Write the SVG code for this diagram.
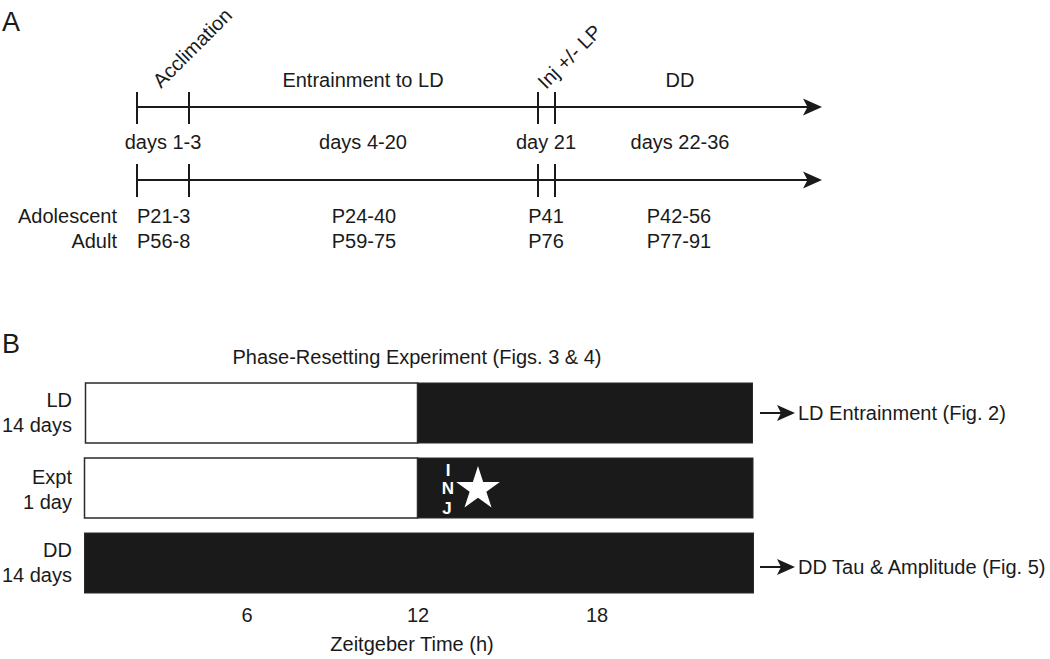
<svg xmlns="http://www.w3.org/2000/svg" width="1050" height="659" viewBox="0 0 1050 659">
<style>
text{font-family:"Liberation Sans",Arial,sans-serif;font-size:20px;fill:#1a1a1a}
.c{text-anchor:middle}
.r{text-anchor:end}
.big{font-size:27px}
.ax{stroke:#1a1a1a;stroke-width:2;fill:none}
.tk{stroke:#1a1a1a;stroke-width:2}
.wb{fill:#fff;stroke:#2a2a2a;stroke-width:1.5}
.bb{fill:#1a1a1a;stroke:#2a2a2a;stroke-width:1}
.inj{fill:#fff;font-weight:bold;font-size:17px;text-anchor:middle}
.ah{fill:#1a1a1a}
</style>
<rect width="1050" height="659" fill="#fff"/>
<g id="panelA">
<text class="big" x="2" y="31">A</text>
<g id="connectors">
<line class="ax" x1="137" y1="107" x2="808" y2="107"/>
<polygon class="ah" points="822,107 803,98.5 807.5,107 803,115.5"/>
<line class="ax" x1="137" y1="180" x2="808" y2="180"/>
<polygon class="ah" points="822,180 803,171.5 807.5,180 803,188.5"/>
<line class="tk" x1="137" y1="92" x2="137" y2="124"/>
<line class="tk" x1="189" y1="92" x2="189" y2="124"/>
<line class="tk" x1="538" y1="92" x2="538" y2="124"/>
<line class="tk" x1="555" y1="92" x2="555" y2="124"/>
<line class="tk" x1="137" y1="164" x2="137" y2="197"/>
<line class="tk" x1="189" y1="164" x2="189" y2="197"/>
<line class="tk" x1="538" y1="164" x2="538" y2="197"/>
<line class="tk" x1="555" y1="164" x2="555" y2="197"/>
</g>
<g id="phase-labels">
<text transform="translate(161,89) rotate(-45)">Acclimation</text>
<text class="c" x="363" y="87">Entrainment to LD</text>
<text transform="translate(546,90) rotate(-45)">Inj +/- LP</text>
<text class="c" x="680" y="87">DD</text>
</g>
<g id="day-labels">
<text class="c" x="163" y="149">days 1-3</text>
<text class="c" x="363" y="149">days 4-20</text>
<text class="c" x="546" y="149">day 21</text>
<text class="c" x="680" y="149">days 22-36</text>
</g>
<g id="age-labels">
<text class="r" x="117" y="223">Adolescent</text>
<text x="137" y="223">P21-3</text>
<text class="c" x="364" y="223">P24-40</text>
<text class="c" x="546" y="223">P41</text>
<text class="c" x="679" y="223">P42-56</text>
<text class="r" x="117" y="248">Adult</text>
<text x="137" y="248">P56-8</text>
<text class="c" x="364" y="248">P59-75</text>
<text class="c" x="546" y="248">P76</text>
<text class="c" x="679" y="248">P77-91</text>
</g>
</g>
<g id="panelB">
<text class="big" x="2" y="353">B</text>
<text class="c" x="417" y="364">Phase-Resetting Experiment (Figs. 3 &amp; 4)</text>
<g id="row-LD">
<text class="r" x="72" y="407">LD</text>
<text class="r" x="72" y="432">14 days</text>
<rect class="wb" x="85.5" y="383" width="332" height="60"/>
<rect class="bb" x="417.5" y="383" width="335" height="60"/>
</g>
<g id="row-Expt">
<text class="r" x="72" y="484">Expt</text>
<text class="r" x="72" y="509">1 day</text>
<rect class="wb" x="84.5" y="458" width="333" height="60"/>
<rect class="bb" x="417.5" y="458" width="335.5" height="60"/>
<text class="inj" x="448" y="476">I</text>
<text class="inj" x="448" y="494">N</text>
<text class="inj" x="447" y="514">J</text>
<polygon fill="#fff" points="478,466 483.17,481.88 499.87,481.89 486.37,491.72 491.52,507.61 478,497.8 464.48,507.61 469.63,491.72 456.13,481.89 472.83,481.88"/>
</g>
<g id="row-DD">
<text class="r" x="72" y="557">DD</text>
<text class="r" x="72" y="582">14 days</text>
<rect class="bb" x="84.5" y="533" width="669" height="60"/>
</g>
<g id="outcome-arrows">
<line class="ax" x1="760" y1="413" x2="782" y2="413"/>
<polygon class="ah" points="795,413 777,405 781,413 777,421"/>
<line class="ax" x1="760" y1="567" x2="782" y2="567"/>
<polygon class="ah" points="795,567 777,559 781,567 777,575"/>
</g>
<g id="outcomes">
<text x="798" y="420">LD Entrainment (Fig. 2)</text>
<text x="798" y="574">DD Tau &amp; Amplitude (Fig. 5)</text>
</g>
<g id="time-axis">
<text class="c" x="247" y="622">6</text>
<text class="c" x="418" y="622">12</text>
<text class="c" x="597" y="622">18</text>
<text class="c" x="412" y="651">Zeitgeber Time (h)</text>
</g>
</g>
</svg>
